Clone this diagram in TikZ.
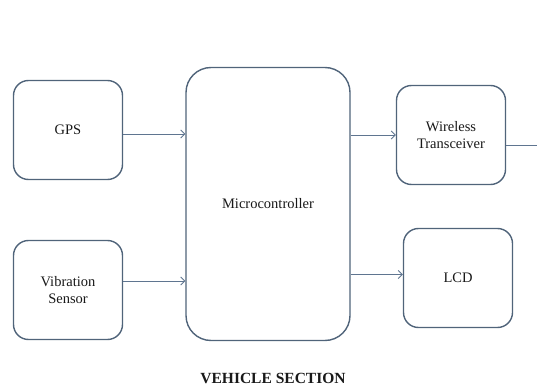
\documentclass[tikz,border=0pt]{standalone}
\usepackage{fontspec}
\setmainfont{Liberation Serif}
\usepackage{tikz}
\usetikzlibrary{arrows,arrows.meta,positioning}

\definecolor{boxline}{HTML}{50647A}
\definecolor{arrowline}{HTML}{5F7590}

\begin{document}
\begin{tikzpicture}[x=1pt,y=-1pt,>={Straight Barb[length=4pt,width=8pt]},semithick]
\tikzset{block/.style={draw=boxline,line width=1.4pt,rounded corners=15pt,fill=white,
    text=black!90,align=center,font=\rmfamily\fontsize{14.5}{17.5}\selectfont,
    minimum width=109pt,minimum height=99pt}}
\tikzset{link/.style={draw=arrowline,line width=0.8pt}}
\useasboundingbox (0,0) rectangle (537,387);
\node[block]                 (gps) at (68,130)  {GPS};
\node[block]                 (vib) at (68,290)  {Vibration\\ Sensor};
\node[block,minimum width=164pt,minimum height=273pt,rounded corners=25pt]
                             (mc)  at (268,204) {Microcontroller};
\node[block]                 (wt)  at (451,135) {Wireless\\ Transceiver};
\node[block]                 (lcd) at (458,278) {LCD};
\coordinate (edge) at (537,145);
\node[font=\rmfamily\bfseries\fontsize{15.5}{18}\selectfont,text=black!90] (title) at (273,378) {VEHICLE SECTION};
\draw[link,->] ([yshift=-4pt]gps.east) -- ([yshift=-4pt]gps.east -| mc.west);
\draw[link,->] ([yshift=9pt]vib.east) -- ([yshift=9pt]vib.east -| mc.west);
\draw[link,->] (wt.west -| mc.east) -- (wt.west);
\draw[link,->] ([yshift=3.5pt]lcd.west -| mc.east) -- ([yshift=3.5pt]lcd.west);
\draw[link] ([yshift=-10pt]wt.east) -- (edge);
\end{tikzpicture}
\end{document}
